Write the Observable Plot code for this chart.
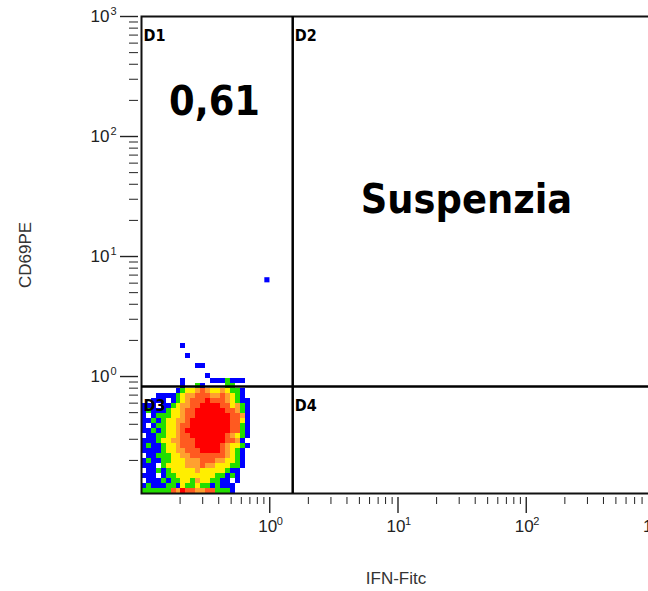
<!DOCTYPE html>
<html><head><meta charset="utf-8">
<script src="https://cdn.jsdelivr.net/npm/d3@7"></script>
<script src="https://cdn.jsdelivr.net/npm/@observablehq/plot@0.6"></script>
<style>
html,body{margin:0;padding:0;background:#fff;overflow:hidden;width:648px;height:591px}
</style></head><body><div id="chart"></div>
<script>
// ---- data ----
const xDomain = [0.1, 1000];
const yDomain = [0.106, 1000];
const xMajorTicks = [1, 10, 100, 1000];
const yMajorTicks = [1, 10, 100, 1000];
const xMinorTicks = [0.2,0.3,0.4,0.5,0.6,0.7,0.8,0.9, 2,3,4,5,6,7,8,9, 20,30,40,50,60,70,80,90, 200,300,400,500,600,700,800,900];
const yMinorTicks = [0.2,0.3,0.4,0.5,0.6,0.7,0.8,0.9, 2,3,4,5,6,7,8,9, 20,30,40,50,60,70,80,90, 200,300,400,500,600,700,800,900];
const xGate = [1.51];
const yGate = [0.825];
const quadrantNames = ["D1", "D2", "D3", "D4"];
const percentText = ["0,61"];
const sampleText = ["Suspenzia"];
const xTitle = "IFN-Fitc";
const yTitle = "CD69PE";
const outliers = [{x: 0.95, y: 6.4}];

// density raster: 26 bins per decade in x, 24 per decade in y, from the lower-left corner
const binOriginX = 0.1, binOriginY = 0.106, binsPerDecadeX = 26, binsPerDecadeY = 24;
// level codes: b blue, g green, y yellow, l light orange, o orange, r red (top row first)
const densityRows = [
  "........b",
  "",
  ".........b",
  "",
  "...........bb",
  "",
  ".............b",
  "........b.....bbbgbbb",
  "........b..gb....gg",
  ".......bgyylolyylyggb",
  "...bbbbgyllooollolygb",
  "..bbb.bgylooorooolygbb",
  "bbb.bbgylloorrrrooylgb",
  "bgbbbgyyloorrrrrroolgb",
  "b.bgggyyloorrrrrrroolb",
  "bbgbgyyllorrrrrrrrooyb",
  "b.bggyyloorrrrrrrroogb",
  "bbgbgyylorrrrrrrrroogb",
  ".bbggyyloorrrrrrrolygb",
  "bbbgyyllooorrrrrroolb",
  "bgbbgyylooorrrrrolyygb",
  "bbbbgyyllooorrrrolygb",
  ".bbgggyyllooooooolygb",
  "bgbbggyyylllooollyygb",
  "bbb.gyyyylllollyyyggb",
  ".bbgbgyyyyylyyyyygbb",
  "bbb.bggyyyyyyyyggbgb",
  ".bbbgbggyyglyyggbb.b",
  "bgbbbggbyggyggbgbbb",
  "ggggggolroolloogggb"
];
const levelColors = {b: "#0000ff", g: "#22dd00", y: "#ffee00", l: "#ffa030", o: "#ff5a20", r: "#ff0000"};

// ---- build cells ----
const cells = [];
densityRows.forEach((row, i) => {
  const r = densityRows.length - 1 - i;
  [...row].forEach((ch, c) => { if (ch !== ".") cells.push({c, r, level: ch}); });
});
const bx = c => binOriginX * Math.pow(10, c / binsPerDecadeX);
const by = r => binOriginY * Math.pow(10, r / binsPerDecadeY);

const quadrants = [
  {name: quadrantNames[0], x: xDomain[0], y: yDomain[1]},
  {name: quadrantNames[1], x: xGate[0], y: yDomain[1]},
  {name: quadrantNames[2], x: xDomain[0], y: yGate[0]},
  {name: quadrantNames[3], x: xGate[0], y: yGate[0]}
];
const exp = d => String(Math.round(Math.log10(d)));
const axisFont = "'Liberation Sans Narrow', 'Liberation Sans', Arial, sans-serif";
const boldFont = "'DejaVu Sans Condensed', 'DejaVu Sans', Verdana, sans-serif";

const plot = Plot.plot({
  width: 660, height: 591,
  marginLeft: 141, marginRight: 6, marginTop: 16, marginBottom: 98,
  style: {maxWidth: "none", background: "#fff"},
  x: {type: "log", domain: xDomain},
  y: {type: "log", domain: yDomain},
  color: {type: "identity"},
  marks: [
    Plot.rect(cells, {x1: d => bx(d.c), x2: d => bx(d.c + 1), y1: d => by(d.r), y2: d => by(d.r + 1),
      fill: d => levelColors[d.level], shapeRendering: "crispEdges"}),
    Plot.dot(outliers, {x: "x", y: "y", symbol: "square", r: 2.9, fill: levelColors.b}),
    Plot.frame({stroke: "#111", strokeWidth: 2}),
    Plot.ruleX(xGate, {stroke: "#000", strokeWidth: 2.5}),
    Plot.ruleY(yGate, {stroke: "#000", strokeWidth: 2.5}),
    // axes ticks
    Plot.axisX(xMinorTicks, {anchor: "bottom", tickSize: 7, dy: 4, tickFormat: () => "", stroke: "#222", label: null}),
    Plot.axisX(xMajorTicks, {anchor: "bottom", tickSize: 16, dy: 4, tickFormat: () => "", stroke: "#222", strokeWidth: 1.4, label: null}),
    Plot.axisY(yMinorTicks, {anchor: "left", tickSize: 9, dx: -3, tickFormat: () => "", stroke: "#222", label: null}),
    Plot.axisY(yMajorTicks, {anchor: "left", tickSize: 18, dx: -3, tickFormat: () => "", stroke: "#222", strokeWidth: 1.4, label: null}),
    // tick labels
    Plot.text(xMajorTicks, {x: d => d, frameAnchor: "bottom", text: () => "10", dy: 33, dx: -2, lineAnchor: "middle", fontSize: 17, fontFamily: axisFont, fill: "#222"}),
    Plot.text(xMajorTicks, {x: d => d, frameAnchor: "bottom", text: exp, dy: 28, dx: 7, textAnchor: "start", lineAnchor: "middle", fontSize: 11, fontFamily: axisFont, fill: "#222"}),
    Plot.text(yMajorTicks, {y: d => d, frameAnchor: "left", text: () => "10", dx: -32, dy: 0, textAnchor: "end", fontSize: 17, fontFamily: axisFont, fill: "#222"}),
    Plot.text(yMajorTicks, {y: d => d, frameAnchor: "left", text: exp, dx: -31, dy: -5, textAnchor: "start", fontSize: 11, fontFamily: axisFont, fill: "#222"}),
    // titles
    Plot.text([xTitle], {frameAnchor: "bottom", text: d => d, dy: 85, dx: -2, textAnchor: "middle", lineAnchor: "middle", fontSize: 17, fontFamily: axisFont, fill: "#333"}),
    Plot.text([yTitle], {frameAnchor: "left", text: d => d, dx: -116, rotate: -90, textAnchor: "middle", lineAnchor: "middle", fontSize: 17, fontFamily: axisFont, fill: "#333"}),
    // quadrant names
    Plot.text(quadrants, {x: "x", y: "y", text: "name", textAnchor: "start", lineAnchor: "top", dx: 2, dy: 13,
      fontSize: 16, fontWeight: "bold", fontFamily: boldFont, fill: "#000"}),
    // annotations
    Plot.text(percentText, {frameAnchor: "top-left", text: d => d, dx: 73, dy: 85, textAnchor: "middle", lineAnchor: "middle", fontSize: 41, fontWeight: "bold", fontFamily: boldFont, fill: "#000"}),
    Plot.text(sampleText, {frameAnchor: "top-left", text: d => d, dx: 325, dy: 183, textAnchor: "middle", lineAnchor: "middle", fontSize: 41, fontWeight: "bold", fontFamily: boldFont, fill: "#000"})
  ]
});
document.getElementById("chart").appendChild(plot);
</script>
</body></html>
